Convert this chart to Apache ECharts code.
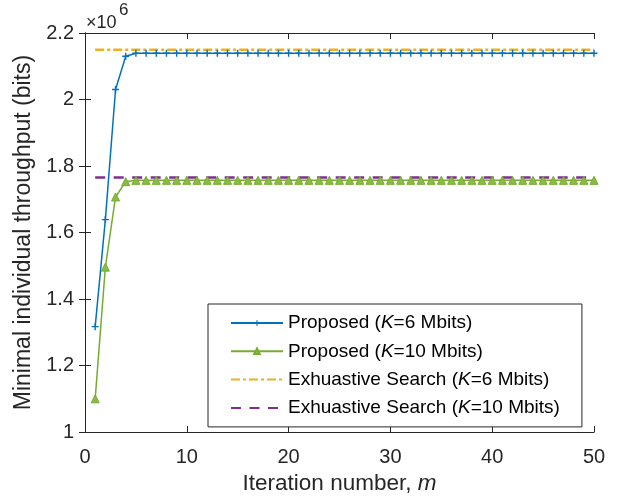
<!DOCTYPE html>
<html>
<head>
<meta charset="utf-8">
<script src="https://cdn.jsdelivr.net/npm/echarts@6/dist/echarts.min.js"></script>
<style>
html,body{margin:0;padding:0;background:#fff;}
#chart{width:623px;height:500px;}
</style>
</head>
<body>
<div id="chart"></div>
<script>
var iterations = [1,2,3,4,5,6,7,8,9,10,11,12,13,14,15,16,17,18,19,20,21,22,23,24,25,26,27,28,29,30,31,32,33,34,35,36,37,38,39,40,41,42,43,44,45,46,47,48,49,50];
var proposedK6 = [1.317e6,1.639e6,2.030e6,2.130e6,2.139e6,2.139e6,2.139e6,2.139e6,2.139e6,2.139e6,
  2.139e6,2.139e6,2.139e6,2.139e6,2.139e6,2.139e6,2.139e6,2.139e6,2.139e6,2.139e6,
  2.139e6,2.139e6,2.139e6,2.139e6,2.139e6,2.139e6,2.139e6,2.139e6,2.139e6,2.139e6,
  2.139e6,2.139e6,2.139e6,2.139e6,2.139e6,2.139e6,2.139e6,2.139e6,2.139e6,2.139e6,
  2.139e6,2.139e6,2.139e6,2.139e6,2.139e6,2.139e6,2.139e6,2.139e6,2.139e6,2.139e6];
var proposedK10 = [1.100e6,1.496e6,1.707e6,1.753e6,1.757e6,1.757e6,1.757e6,1.757e6,1.757e6,1.757e6,
  1.757e6,1.757e6,1.757e6,1.757e6,1.757e6,1.757e6,1.757e6,1.757e6,1.757e6,1.757e6,
  1.757e6,1.757e6,1.757e6,1.757e6,1.757e6,1.757e6,1.757e6,1.757e6,1.757e6,1.757e6,
  1.757e6,1.757e6,1.757e6,1.757e6,1.757e6,1.757e6,1.757e6,1.757e6,1.757e6,1.757e6,
  1.757e6,1.757e6,1.757e6,1.757e6,1.757e6,1.757e6,1.757e6,1.757e6,1.757e6,1.757e6];
var exhaustiveK6 = [2.150e6,2.150e6];
var exhaustiveK10 = [1.7655e6,1.7655e6];
var exhaustiveX = [1,50];
var seriesNames = ['Proposed (K=6 Mbits)','Proposed (K=10 Mbits)','Exhuastive Search (K=6 Mbits)','Exhuastive Search (K=10 Mbits)'];
var xTicks = [0,10,20,30,40,50];
var yTicks = [1,1.2,1.4,1.6,1.8,2,2.2];

function pairs(xs, ys){ return xs.map(function(x,i){ return [x, ys[i]]; }); }

var FONT = 'Liberation Sans, Arial, Helvetica, sans-serif';
var AX = '#262626';
var chart = echarts.init(document.getElementById('chart'), null, {renderer:'canvas'});

var axisCommon = {
  axisLine:{show:true,lineStyle:{color:AX,width:1}},
  axisTick:{show:true,inside:true,length:6,lineStyle:{color:AX,width:1}},
  splitLine:{show:false}
};

var option = {
  backgroundColor:'#fff',
  animation:false,
  grid:{left:85,right:29,top:33,bottom:66},
  xAxis:[
    Object.assign({type:'value',min:xTicks[0],max:xTicks[xTicks.length-1],interval:10,position:'bottom',
      name:'{n|Iteration number, }{i|m}',nameLocation:'middle',nameGap:31,
      nameTextStyle:{rich:{n:{fontSize:22.5,fontFamily:FONT,color:AX},i:{fontSize:22.5,fontFamily:FONT,color:AX,fontStyle:'italic'}}},
      axisLabel:{fontSize:20,fontFamily:FONT,color:AX,margin:15}}, axisCommon),
    Object.assign({type:'value',min:xTicks[0],max:xTicks[xTicks.length-1],interval:10,position:'top',
      axisLabel:{show:false}}, axisCommon)
  ],
  yAxis:[
    Object.assign({type:'value',min:yTicks[0]*1e6,max:yTicks[yTicks.length-1]*1e6,interval:2e5,position:'left',
      name:'Minimal individual throughput (bits)',nameLocation:'middle',nameGap:48,
      nameTextStyle:{fontSize:23,fontFamily:FONT,color:AX},
      axisLabel:{fontSize:20,fontFamily:FONT,color:AX,margin:11,
        formatter:function(v){return String(parseFloat((v/1e6).toFixed(1)));}}}, axisCommon),
    Object.assign({type:'value',min:yTicks[0]*1e6,max:yTicks[yTicks.length-1]*1e6,interval:2e5,position:'right',
      axisLabel:{show:false}}, axisCommon)
  ],
  legend:{
    orient:'vertical',left:208,top:304,
    padding:[9,22,9,22],itemGap:8.3,itemWidth:52,itemHeight:7,
    backgroundColor:'#fff',borderColor:AX,borderWidth:1,borderRadius:0,
    data:[
      {name:seriesNames[0]},
      {name:seriesNames[1]},
      {name:seriesNames[2],itemStyle:{opacity:0}},
      {name:seriesNames[3],itemStyle:{opacity:0}}
    ],
    formatter:function(name){
      var m = name.match(/^(.*\()K(=.*)$/);
      return '{t|'+m[1]+'}{i|K}{t|'+m[2]+'}';
    },
    textStyle:{fontSize:19,fontFamily:FONT,color:'#000',lineHeight:20,
      rich:{t:{fontSize:19,fontFamily:FONT,color:'#000',lineHeight:20},i:{fontSize:19,fontFamily:FONT,color:'#000',fontStyle:'italic',lineHeight:20}}}
  },
  graphic:[
    {type:'text',x:86,y:14,style:{text:'\u00d710',font:'18px Liberation Sans',fill:AX}},
    {type:'text',x:119,y:2,style:{text:'6',font:'17px Liberation Sans',fill:AX}}
  ],
  series:[
    {name:seriesNames[0],type:'line',data:pairs(iterations,proposedK6),
      symbol:'path://M3.2,0H4.8V3.2H8V4.8H4.8V8H3.2V4.8H0V3.2H3.2Z',symbolSize:7,showAllSymbol:true,
      lineStyle:{color:'#0072BD',width:1.5},itemStyle:{color:'#0072BD'},z:3},
    {name:seriesNames[1],type:'line',data:pairs(iterations,proposedK10),
      symbol:'triangle',symbolSize:8,showAllSymbol:true,
      lineStyle:{color:'#77AC30',width:1.5},itemStyle:{color:'#8ABB46',borderColor:'#77AC30',borderWidth:1},z:3},
    {name:seriesNames[2],type:'line',data:pairs(exhaustiveX,exhaustiveK6),symbol:'none',
      lineStyle:{color:'#EDB120',width:2.5,type:[9,3,3,3]},itemStyle:{color:'#EDB120'},z:2},
    {name:seriesNames[3],type:'line',data:pairs(exhaustiveX,exhaustiveK10),symbol:'none',
      lineStyle:{color:'#7E2F8E',width:2.5,type:[10,8.5]},itemStyle:{color:'#7E2F8E'},z:2}
  ]
};
chart.setOption(option);
</script>
</body>
</html>
